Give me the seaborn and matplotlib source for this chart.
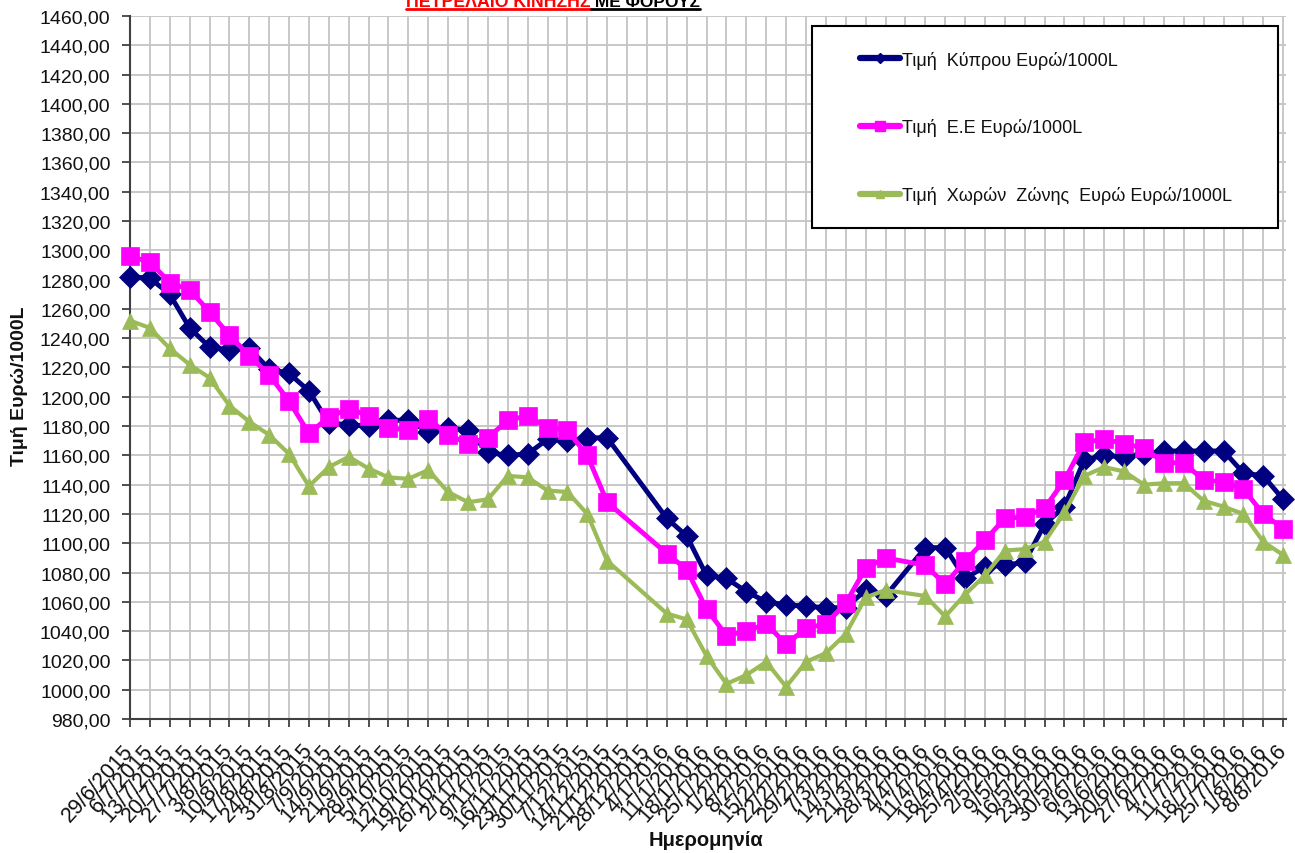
import matplotlib
matplotlib.use("Agg")
import matplotlib.pyplot as plt
import numpy as np
import pandas as pd
import seaborn as sns
from matplotlib.lines import Line2D
from matplotlib.patches import Rectangle
from matplotlib.ticker import FuncFormatter, MultipleLocator

# ---------------- data ----------------
tick_labels = [
    "29/6/2015", "6/7/2015", "13/7/2015", "20/7/2015", "27/7/2015", "3/8/2015",
    "10/8/2015", "17/8/2015", "24/8/2015", "31/8/2015", "7/9/2015", "14/9/2015",
    "21/9/2015", "28/9/2015", "5/10/2015", "12/10/2015", "19/10/2015", "26/10/2015",
    "2/11/2015", "9/11/2015", "16/11/2015", "23/11/2015", "30/11/2015", "7/12/2015",
    "14/12/2015", "21/12/2015", "28/12/2015", "4/1/2016", "11/1/2016", "18/1/2016",
    "25/1/2016", "1/2/2016", "8/2/2016", "15/2/2016", "22/2/2016", "29/2/2016",
    "7/3/2016", "14/3/2016", "21/3/2016", "28/3/2016", "4/4/2016", "11/4/2016",
    "18/4/2016", "25/4/2016", "2/5/2016", "9/5/2016", "16/5/2016", "23/5/2016",
    "30/5/2016", "6/6/2016", "13/6/2016", "20/6/2016", "27/6/2016", "4/7/2016",
    "11/7/2016", "18/7/2016", "25/7/2016", "1/8/2016", "8/8/2016",
]

cyprus = [1282, 1281, 1270, 1247, 1234, 1232, 1233, 1219, 1216, 1204,
          1182, 1181, 1180, 1184, 1184, 1176, 1179, 1177, 1162, 1160,
          1161, 1171, 1170, 1172, 1172, None, None, 1117, 1105, 1078,
          1076, 1067, 1060, 1058, 1057, 1056, 1056, 1068, 1064, None,
          1097, 1097, 1076, 1084, 1085, 1087, 1113, 1125, 1157, 1160,
          1159, 1161, 1163, 1163, 1163, 1163, 1148, 1146, 1130]

eu = [1296, 1292, 1278, 1273, 1258, 1242, 1228, 1215, 1197, 1175,
      1186, 1192, 1187, 1179, 1177, 1185, 1174, 1168, 1172, 1184,
      1187, 1179, 1177, 1160, 1128, None, None, 1093, 1082, 1055,
      1037, 1040, 1045, 1031, 1042, 1045, 1059, 1083, 1090, None,
      1085, 1072, 1088, 1102, 1117, 1118, 1124, 1143, 1169, 1171,
      1168, 1165, 1155, 1155, 1143, 1142, 1137, 1120, 1110]

zone = [1252, 1247, 1233, 1222, 1213, 1194, 1183, 1174, 1161, 1139,
        1152, 1159, 1151, 1145, 1144, 1150, 1135, 1128, 1130, 1146,
        1145, 1136, 1135, 1120, 1088, None, None, 1052, 1048, 1023,
        1004, 1010, 1019, 1002, 1019, 1025, 1038, 1063, 1068, None,
        1064, 1050, 1065, 1078, 1095, 1096, 1101, 1121, 1146, 1152,
        1149, 1140, 1141, 1141, 1129, 1125, 1120, 1101, 1092]

series_names = ["Τιμή  Κύπρου Ευρώ/1000L", "Τιμή  Ε.Ε Ευρώ/1000L",
                "Τιμή  Χωρών  Ζώνης  Ευρώ Ευρώ/1000L"]
title_red = "ΠΕΤΡΕΛΑΙΟ ΚΙΝΗΣΗΣ"
title_black = " ΜΕ ΦΟΡΟΥΣ"
x_label = "Ημερομηνία"
y_label = "Τιμή Ευρώ/1000L"

# ---------------- style ----------------
sns.set_style("white")
plt.rcParams['font.family'] = ['Liberation Sans', 'DejaVu Sans']

W, H = 1295, 854
fig = plt.figure(figsize=(W / 100, H / 100), dpi=100)
ax = fig.add_axes([130 / W, 1 - 720 / H, (1286 - 130) / W, (720 - 17) / H])

dates = pd.to_datetime(tick_labels, dayfirst=True)
df = pd.DataFrame({"date": dates,
                   "cy": pd.Series(cyprus, dtype="float"),
                   "eu": pd.Series(eu, dtype="float"),
                   "zone": pd.Series(zone, dtype="float")})

styles = [
    ("cy", "#000080", "D", 11.0, 3.5),
    ("eu", "#FF00FF", "s", 13.0, 3.5),
    ("zone", "#9BBB59", "^", 12.0, 3.0),
]
for i, (col, colr, mk, ms, lw) in enumerate(styles):
    d = df.dropna(subset=[col])
    sns.lineplot(data=d, x="date", y=col, ax=ax, color=colr, marker=mk,
                 markersize=ms, markeredgecolor=colr, markerfacecolor=colr,
                 markeredgewidth=0.5, linewidth=lw, errorbar=None,
                 legend=False, zorder=3 + i, clip_on=False)

ax.set_xlim(dates[0], dates[-1] + pd.Timedelta(days=1))
ax.set_ylim(980, 1460)
ax.yaxis.set_major_locator(MultipleLocator(20))
ax.yaxis.set_major_formatter(FuncFormatter(lambda v, p: f"{v:.2f}".replace(".", ",")))
ax.set_xticks(dates)
ax.set_xticklabels(tick_labels, rotation=48, ha="right", va="center",
                   rotation_mode="anchor", fontsize=15.5)

ax.grid(True, color="#c4c4c4", linewidth=1.3)
ax.set_axisbelow(True)
for s in ["top", "right"]:
    ax.spines[s].set_visible(False)
for s in ["left", "bottom"]:
    ax.spines[s].set_color("#404040")
    ax.spines[s].set_linewidth(1.5)
ax.tick_params(axis="both", which="major", bottom=True, left=True,
               direction="out", length=6, width=1.3, color="#404040",
               labelcolor="#111111")
ax.tick_params(axis="y", pad=8, labelsize=14)
ax.tick_params(axis="x", pad=14)
ax.set_xlabel("")
ax.set_ylabel("")

fig.text(706 / W, 1 - 841 / H, x_label, ha="center", va="center",
         fontsize=14.5, fontweight="bold", color="#111111")
fig.text(20 / W, 1 - 386 / H, y_label, ha="center", va="center",
         rotation=90, fontsize=14, fontweight="bold", color="#111111")

# ---------------- legend ----------------
fig.add_artist(Rectangle((812 / W, 1 - 229 / H), 466 / W, 202 / H,
                         transform=fig.transFigure, facecolor="white",
                         edgecolor="black", linewidth=1.5, zorder=3))
fs_px = 13 * 100 / 72
handles = [Line2D([], [], color=c, marker=m, markersize=s * 0.5,
                  markeredgecolor=c, linewidth=4.5)
           for (_, c, m, s, _) in styles]
fig.legend(handles, series_names, loc="center left",
           bbox_to_anchor=(860 / W, 1 - 128.3 / H), frameon=False,
           borderpad=0, borderaxespad=0, handlelength=40 / fs_px,
           handletextpad=2 / fs_px, labelspacing=2.75, fontsize=13,
           labelcolor="#111111")

# ---------------- title (clipped at top as in the source) ----------------
t1 = fig.text(406 / W, 1 - 7 / H, title_red, ha="left", va="baseline",
              fontsize=12.75, fontweight="bold", color="#FF0000")
fig.canvas.draw()
r = fig.canvas.get_renderer()
b1 = t1.get_window_extent(r)
t2 = fig.text(b1.x1 / W, 1 - 7 / H, title_black, ha="left", va="baseline",
              fontsize=12.5, fontweight="bold", color="black")
fig.canvas.draw()
b2 = t2.get_window_extent(r)
uy = 1 - 10 / H
fig.add_artist(Line2D([b1.x0 / W, b1.x1 / W], [uy, uy], color="#FF0000",
                      linewidth=2, transform=fig.transFigure))
fig.add_artist(Line2D([b2.x0 / W, b2.x1 / W], [uy, uy], color="black",
                      linewidth=2, transform=fig.transFigure))

fig.savefig("out.png", dpi=100)
